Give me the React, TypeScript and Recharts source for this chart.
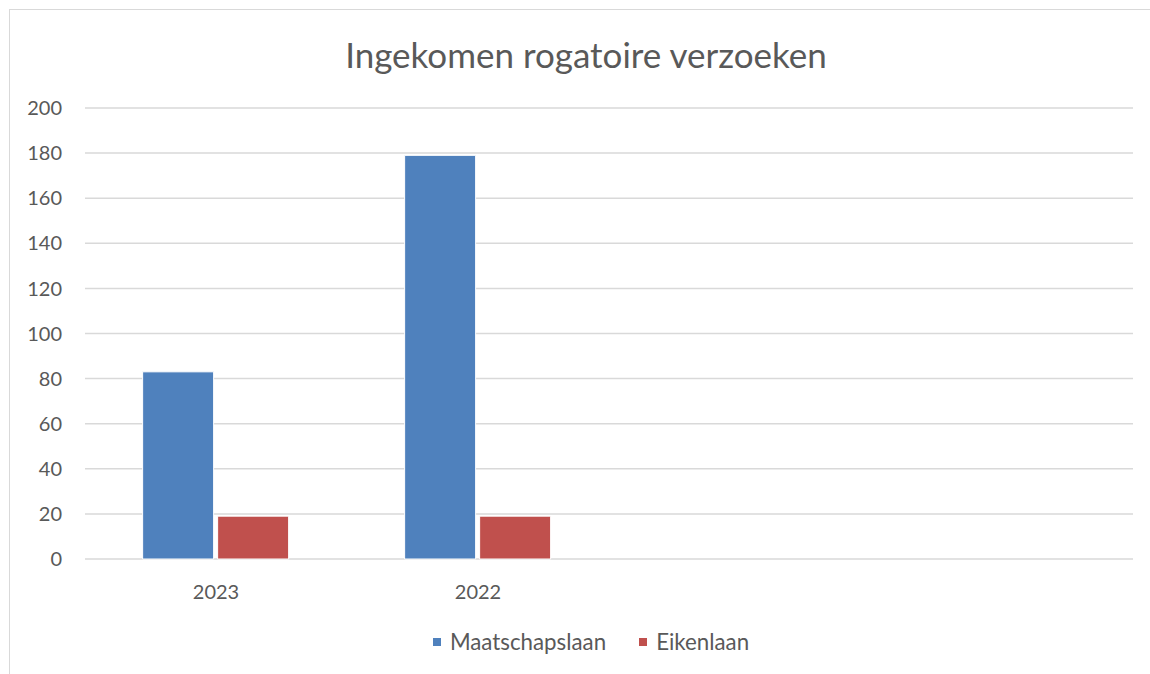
import React from 'react';
import { BarChart, Bar, XAxis, YAxis, CartesianGrid, Legend } from 'recharts';

const years = ['2023', '2022', ' ', '  '];
const maatschapslaan = [83, 179, null, null];
const eikenlaan = [19, 19, null, null];
const yTicks = [0, 20, 40, 60, 80, 100, 120, 140, 160, 180, 200];

const seriesInfo = [
  { key: 'Maatschapslaan', color: '#4f81bd' },
  { key: 'Eikenlaan', color: '#c0504d' },
];

const data = years.map((year, i) => ({
  year,
  Maatschapslaan: maatschapslaan[i],
  Eikenlaan: eikenlaan[i],
}));

const FONT = 'Lato, "Open Sans", sans-serif';
const TEXT = '#595959';

const LegendContent = () => (
  <div
    style={{
      display: 'flex',
      justifyContent: 'center',
      gap: 33,
      fontSize: 22.3,
      color: TEXT,
      fontFamily: FONT,
      paddingLeft: 12,
    }}
  >
    {seriesInfo.map((s) => (
      <div key={s.key} style={{ display: 'flex', alignItems: 'center' }}>
        <span style={{ width: 8, height: 8, background: s.color, display: 'inline-block', marginRight: 9 }} />
        {s.key}
      </div>
    ))}
  </div>
);

export default function App() {
  return (
    <div style={{ position: 'relative', width: 1150, height: 674, overflow: 'hidden', fontFamily: FONT }}>
      <style>{`body{margin:0;overflow:hidden}`}</style>
      <div
        style={{
          position: 'absolute',
          left: 9,
          top: 9,
          width: 1152,
          height: 690,
          border: '1px solid #d9d9d9',
          background: '#fff',
        }}
      >
        <div
          style={{
            position: 'absolute',
            left: 0,
            width: 1152,
            top: 23,
            textAlign: 'center',
            fontSize: 35,
            color: TEXT,
          }}
        >
          Ingekomen rogatoire verzoeken
        </div>
        <BarChart
          width={1150}
          height={680}
          data={data}
          margin={{ top: 98, right: 27, bottom: 64, left: 0 }}
          barCategoryGap="22%"
          barGap={4}
        >
          <CartesianGrid vertical={false} stroke="#d9d9d9" strokeWidth={1.5} />
          <XAxis
            dataKey="year"
            axisLine={false}
            tickLine={false}
            tick={{ fill: TEXT, fontSize: 20, fontFamily: FONT }}
            tickMargin={20}
            height={40}
          />
          <YAxis
            domain={[0, 200]}
            ticks={yTicks}
            axisLine={false}
            tickLine={false}
            tick={{ fill: TEXT, fontSize: 20, fontFamily: FONT }}
            tickMargin={17}
            width={75}
          />
          <Legend verticalAlign="bottom" wrapperStyle={{ top: 618, left: 0, width: 1150 }} content={<LegendContent />} />
          <Bar dataKey="Maatschapslaan" fill="#4f81bd" stroke="#fff" strokeWidth={1} isAnimationActive={false} />
          <Bar dataKey="Eikenlaan" fill="#c0504d" stroke="#fff" strokeWidth={1} isAnimationActive={false} />
        </BarChart>
      </div>
    </div>
  );
}
